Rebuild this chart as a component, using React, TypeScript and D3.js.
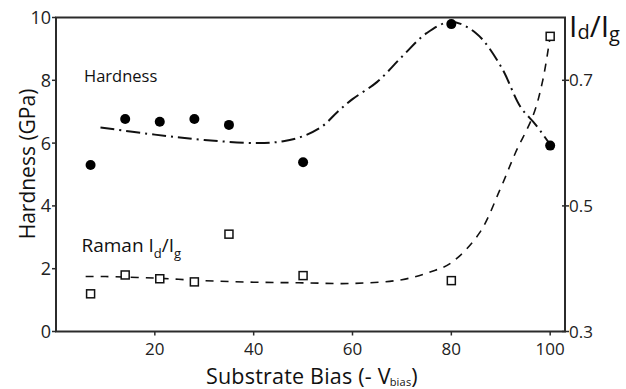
import React from 'react';
import * as d3 from 'd3';

// ---- data ----
const biasValues = [7, 14, 21, 28, 35, 50, 80, 100];
const hardnessValues = [5.3, 6.77, 6.68, 6.77, 6.58, 5.39, 9.79, 5.92];
const ramanValues = [0.36, 0.39, 0.384, 0.379, 0.455, 0.389, 0.381, 0.77];

const hardnessFitX = [9, 20, 30, 41, 46, 50, 54, 57, 60, 65, 70, 75, 80, 85, 90, 94, 97, 100];
const hardnessFitY = [6.5, 6.27, 6.1, 6.0, 6.06, 6.22, 6.55, 7.0, 7.4, 7.95, 8.75, 9.5, 9.86, 9.5, 8.45, 7.15, 6.6, 5.95];

const ramanFitX = [6, 10, 20, 30, 40, 50, 60, 70, 76, 80, 85.7, 89.8, 93, 96.6, 98.5, 100];
const ramanFitY = [0.3875, 0.3875, 0.385, 0.381, 0.3785, 0.3775, 0.3765, 0.3825, 0.3955, 0.4095, 0.457, 0.525, 0.585, 0.645, 0.7, 0.77];

const xTicks = [20, 40, 60, 80, 100];
const leftTicks = [0, 2, 4, 6, 8, 10];
const rightTicks = [0.3, 0.5, 0.7];

const FONT = "'Open Sans', 'DejaVu Sans', sans-serif";
const AXIS = '#2b2b2b';

export default function App() {
  const W = 626, H = 389;
  const left = 56, right = 565, top = 17.5, bottom = 331.5;

  const x = d3.scaleLinear().domain([0, 103]).range([left, right]);
  const yL = d3.scaleLinear().domain([0, 10]).range([bottom, top]);
  const yR = d3.scaleLinear().domain([0.3, 0.8]).range([bottom, top]);

  const hardLine = d3.line<number>()
    .x((d, i) => x(hardnessFitX[i]))
    .y((d) => yL(d))
    .curve(d3.curveCatmullRom.alpha(0.5));
  const ramanLine = d3.line<number>()
    .x((d, i) => x(ramanFitX[i]))
    .y((d) => yR(d))
    .curve(d3.curveCatmullRom.alpha(0.5));

  return (
    <svg width={W} height={H} style={{ position: 'absolute', left: 0, top: 0, background: '#fff' }}
      fontFamily={FONT}>
      <rect x={0} y={0} width={W} height={H} fill="#fff" />

      {/* fit curves */}
      <path d={hardLine(hardnessFitY) || ''} fill="none" stroke="#111" strokeWidth={2}
        strokeDasharray="14,5,2,5" />
      <path d={ramanLine(ramanFitY) || ''} fill="none" stroke="#111" strokeWidth={1.6}
        strokeDasharray="8,7" />

      {/* frame */}
      <rect x={left} y={top} width={right - left} height={bottom - top} fill="none" stroke={AXIS} strokeWidth={2} />

      {/* left ticks */}
      {leftTicks.map((t) => (
        <g key={'l' + t}>
          <line x1={left - 4} x2={left} y1={yL(t)} y2={yL(t)} stroke={AXIS} strokeWidth={1.5} />
          <text x={left - 5} y={yL(t)} dy="0.36em" textAnchor="end" fontSize={18} fill="#222">{t}</text>
        </g>
      ))}
      {/* bottom ticks */}
      {xTicks.map((t) => (
        <g key={'x' + t}>
          <line x1={x(t)} x2={x(t)} y1={bottom} y2={bottom + 4} stroke={AXIS} strokeWidth={1.5} />
          <text x={x(t)} y={355} textAnchor="middle" fontSize={17} fill="#222">{t}</text>
        </g>
      ))}
      {/* right ticks */}
      {rightTicks.map((t) => (
        <g key={'r' + t}>
          <line x1={right - 3} x2={right + 4} y1={yR(t)} y2={yR(t)} stroke={AXIS} strokeWidth={1.5} />
          <text x={right + 4} y={yR(t)} dy="0.36em" textAnchor="start" fontSize={17} fill="#222">{t}</text>
        </g>
      ))}

      {/* hardness points */}
      {biasValues.map((b, i) => (
        <circle key={'h' + i} cx={x(b)} cy={yL(hardnessValues[i])} r={5} fill="#000" />
      ))}
      {/* raman points */}
      {biasValues.map((b, i) => (
        <rect key={'r' + i} x={x(b) - 4} y={yR(ramanValues[i]) - 4} width={8} height={8}
          fill="#fff" stroke="#111" strokeWidth={1.5} />
      ))}

      {/* labels */}
      <text x={84} y={81.5} fontSize={16.5} fill="#111">Hardness</text>
      <text x={81.5} y={251.5} fontSize={19} fill="#111">
        Raman I<tspan fontSize={13} dy={6}>d</tspan><tspan dy={-6}>/I</tspan><tspan fontSize={13} dy={6}>g</tspan>
      </text>
      <text x={569} y={37} fontSize={30} fill="#111">
        I<tspan fontSize={20} dy={2}>d</tspan><tspan dy={-2}>/I</tspan><tspan fontSize={20} dy={4}>g</tspan>
      </text>

      {/* axis titles */}
      <text x={206} y={384} fontSize={21.5} fill="#111" letterSpacing={0.2}>
        Substrate Bias (- V<tspan fontSize={11} dx={-1} dy={2}>bias</tspan><tspan dy={-2}>)</tspan>
      </text>
      <text transform={`translate(35,164) rotate(-90)`} textAnchor="middle" fontSize={21} fill="#111">
        Hardness (GPa)
      </text>
    </svg>
  );
}
